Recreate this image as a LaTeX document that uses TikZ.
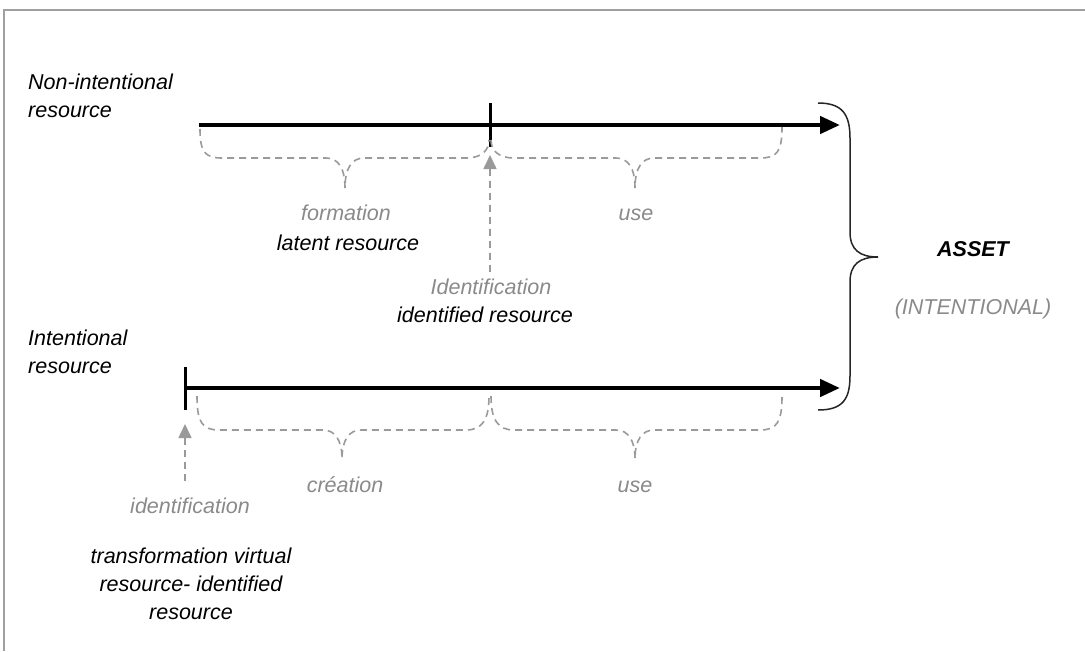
\documentclass[tikz,border=0pt]{standalone}
\usepackage{fontspec}
\setmainfont{Liberation Sans}
\usetikzlibrary{arrows.meta}
\definecolor{txtgray}{HTML}{8A8A8A}
\definecolor{dashgray}{HTML}{9A9A9A}
\definecolor{framegray}{HTML}{A0A0A0}
\begin{document}
\begin{tikzpicture}[x=1pt,y=-1pt,
  lbl/.style={font=\fontsize{21.5}{27.5}\selectfont\itshape, inner sep=0pt, anchor=base},
  graylbl/.style={lbl, text=txtgray},
  timeline/.style={line width=4.5pt, -{Triangle[length=20pt,width=17pt]}},
  tickmark/.style={line width=3pt},
  dbrace/.style={dashgray, line width=1.6pt, dash pattern=on 7pt off 5pt},
  darrow/.style={dashgray, line width=1.6pt, dash pattern=on 7pt off 5pt, {Triangle[length=14pt,width=13pt]}-},
  bigbrace/.style={line width=1.5pt, black!85}]
\useasboundingbox (0,0) rectangle (1085,651);
% frame (only top and left edges visible)
\draw[framegray, line width=2pt] (4,651) -- (4,10) -- (1085,10);

% coordinates
\coordinate (t1s) at (199,125);
\coordinate (t1e) at (840,125);
\coordinate (t1mT) at (490,103);
\coordinate (t1mB) at (490,147);
\coordinate (t2s) at (185,388);
\coordinate (t2e) at (840,388);
\coordinate (t2mT) at (185,367);
\coordinate (t2mB) at (185,410);

% timelines
\draw[timeline] (t1s) -- (t1e);
\draw[tickmark] (t1mT) -- (t1mB);
\draw[timeline] (t2s) -- (t2e);
\draw[tickmark] (t2mT) -- (t2mB);

% dashed braces (top)
\draw[dbrace] (200,129) .. controls (200,152) and (205,158) .. (222,158) -- (326,158)
  .. controls (338,158) and (345,168) .. (345,188)
  .. controls (345,168) and (352,158) .. (364,158) -- (466,158)
  .. controls (482,158) and (489,150) .. (489,140);
\draw[dbrace] (491,140) .. controls (491,150) and (498,158) .. (514,158) -- (616,158)
  .. controls (628,158) and (635,168) .. (635,188)
  .. controls (635,168) and (642,158) .. (654,158) -- (760,158)
  .. controls (777,158) and (782,152) .. (782,127);
% dashed braces (bottom)
\draw[dbrace] (197,396) .. controls (197,422) and (202,430) .. (219,430) -- (323,430)
  .. controls (335,430) and (342,440) .. (342,459)
  .. controls (342,440) and (349,430) .. (361,430) -- (466,430)
  .. controls (482,430) and (489,420) .. (489,396);
\draw[dbrace] (491,396) .. controls (491,420) and (498,430) .. (514,430) -- (616,430)
  .. controls (628,430) and (635,440) .. (635,459)
  .. controls (635,440) and (642,430) .. (654,430) -- (760,430)
  .. controls (777,430) and (782,422) .. (782,396);

% dashed identification arrows
\coordinate (a1tip) at (490,155);
\coordinate (a1end) at (490,272);
\coordinate (a2tip) at (185,424);
\coordinate (a2end) at (185,484);
\draw[darrow] (a1tip) -- (a1end);
\draw[darrow] (a2tip) -- (a2end);

% big brace
\draw[bigbrace] (818,103) .. controls (842,103) and (850,114) .. (850,138) -- (850,232)
  .. controls (850,250) and (860,257) .. (878,257)
  .. controls (860,257) and (850,264) .. (850,282) -- (850,376)
  .. controls (850,400) and (842,410) .. (818,410);

% labels
\node[lbl, anchor=base west] (nonint1) at (28,89) {Non-intentional};
\node[lbl, anchor=base west] (nonint2) at (28,117) {resource};
\node[lbl, anchor=base west] (int1) at (28,345) {Intentional};
\node[lbl, anchor=base west] (int2) at (28,373) {resource};

\node[graylbl] (formation) at (346,220) {formation};
\node[lbl] (latent) at (348,250) {latent resource};
\node[graylbl] (use1) at (636,220) {use};
\node[graylbl] (ident1) at (491,294) {Identification};
\node[lbl] (identres) at (485,322) {identified resource};

\node[graylbl] (creation) at (345,492) {création};
\node[graylbl] (use2) at (635,492) {use};
\node[graylbl] (ident2) at (190,513) {identification};
\node[lbl] (tr1) at (191,563) {transformation virtual};
\node[lbl] (tr2) at (191,591) {resource- identified};
\node[lbl] (tr3) at (191,619) {resource};

\node[lbl, font=\fontsize{21.5}{27.5}\selectfont\itshape\bfseries] (asset) at (973,256) {ASSET};
\node[graylbl] (intentional) at (973,314) {(INTENTIONAL)};
\end{tikzpicture}
\end{document}
